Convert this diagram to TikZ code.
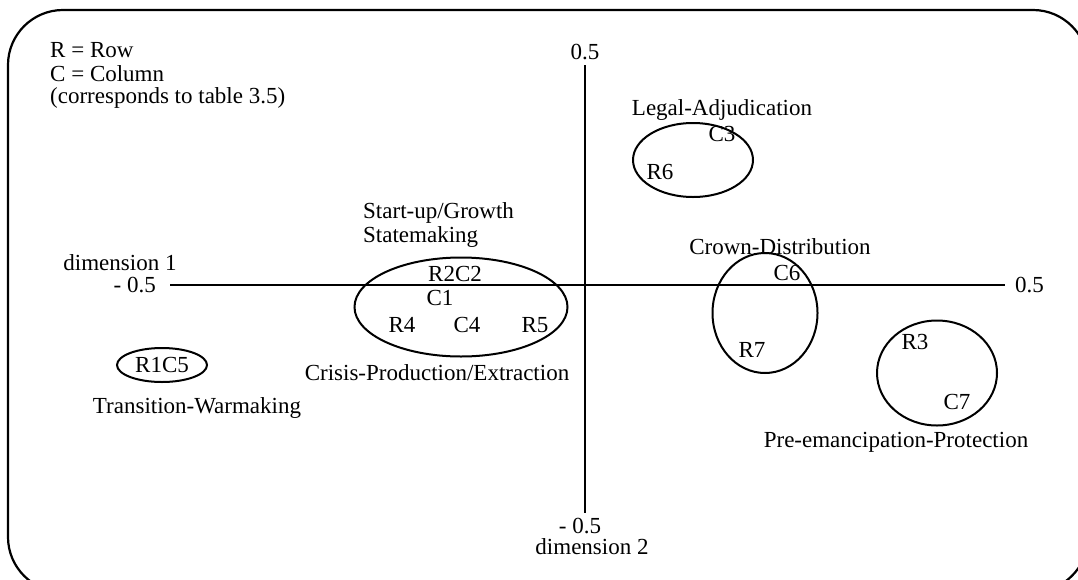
\documentclass[tikz,border=0pt]{standalone}
\usepackage{fontspec}
\setmainfont{Liberation Serif}
\usetikzlibrary{positioning,shapes}
\tikzset{
grp/.style={draw, ellipse, line width=2pt, inner sep=0pt},
lbl/.style={inner sep=0pt, font=\fontsize{23}{27}\selectfont},
axis/.style={line width=1.6pt},
}

\begin{document}
\begin{tikzpicture}[x=1pt,y=-1pt]
\clip (0,0) rectangle (1078,579);
\draw[line width=2.2pt, rounded corners=55pt] (8,10) rectangle (1088,592);

% key
\node[lbl, anchor=west] (keyr) at (50,50) {R = Row};
\node[lbl, anchor=west] (keyc) at (50,74) {C = Column};
\node[lbl, anchor=west] (keyt) at (50,98) {(corresponds to table 3.5)};

% axes
\coordinate (xl) at (170,285);
\coordinate (xr) at (1005,285);
\coordinate (yt) at (585,65);
\coordinate (yb) at (585,513);
\draw[axis] (xl) -- (xr);
\draw[axis] (yt) -- (yb);
\node[lbl, left=14pt of xl] (xmin) {- 0.5};
\node[lbl] (dim1) at (120,263) {dimension 1};
\node[lbl, right=10pt of xr] (xmax) {0.5};
\node[lbl, above=5pt of yt] (ymax) {0.5};
\node[lbl, below=5pt of yb, xshift=-5pt] (ymin) {- 0.5};
\node[lbl, below=4pt of ymin, xshift=12pt] (dim2) {dimension 2};

% groups
\node[grp, minimum width=120pt, minimum height=74pt] (legal) at (693,160) {};
\node[lbl] (legalt) at (722,110) {Legal-Adjudication};
\node[lbl] (c3) at (722,134) {C3};
\node[lbl] (r6) at (660,172) {R6};

\node[grp, minimum width=213pt, minimum height=99pt] (start) at (461,307) {};
\node[lbl, anchor=west] (startt) at (363,213) {Start-up/Growth};
\node[lbl, anchor=west] (statet) at (363,237) {Statemaking};
\node[lbl] (r2c2) at (455,274) {R2C2};
\node[lbl] (c1) at (440,298) {C1};
\node[lbl] (r4) at (402,325) {R4};
\node[lbl] (c4) at (467,325) {C4};
\node[lbl] (r5) at (535,325) {R5};
\node[lbl] (crisis) at (437,373) {Crisis-Production/Extraction};

\node[grp, minimum width=90pt, minimum height=34pt] (trans) at (162,365) {};
\node[lbl] (r1c5) at (162,365) {R1C5};
\node[lbl] (transt) at (197,408) {Transition-Warmaking};

\node[grp, minimum width=105pt, minimum height=120pt] (crown) at (765,313) {};
\node[lbl] (crownt) at (780,247) {Crown-Distribution};
\node[lbl] (c6) at (787,273) {C6};
\node[lbl] (r7) at (752,350) {R7};

\node[grp, minimum width=120pt, minimum height=105pt] (prot) at (937,373) {};
\node[lbl] (r3) at (915,342) {R3};
\node[lbl] (c7) at (957,402) {C7};
\node[lbl] (prott) at (896,442) {Pre-emancipation-Protection};
\end{tikzpicture}
\end{document}
